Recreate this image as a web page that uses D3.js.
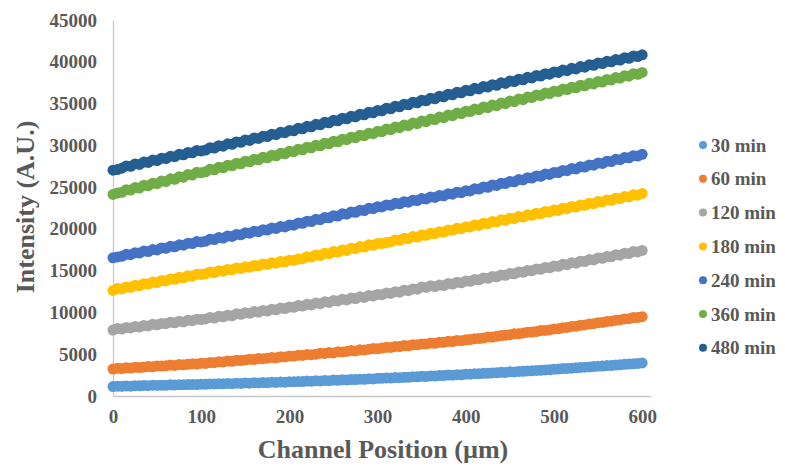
<!DOCTYPE html>
<html>
<head>
<meta charset="utf-8">
<script src="https://cdn.jsdelivr.net/npm/d3@7"></script>
<style>
  html, body { margin: 0; padding: 0; background: #fff; }
  svg { display: block; }
</style>
</head>
<body>
<svg id="chart" width="785" height="465"></svg>
<script>
// Channel positions (µm), one reading every 5 µm from 0 to 600
const positions = d3.range(0, 601, 5);

const seriesNames = ["30 min", "60 min", "120 min", "180 min", "240 min", "360 min", "480 min"];
const seriesColors = ["#5B9BD5", "#ED7D31", "#A5A5A5", "#FFC000", "#4472C4", "#70AD47", "#255E91"];

const yTicks = [0, 5000, 10000, 15000, 20000, 25000, 30000, 35000, 40000, 45000];
const xTicks = [0, 100, 200, 300, 400, 500, 600];

// Intensity (A.U.) per time point
const min30 = [
  1130, 1180, 1160, 1210, 1180, 1230, 1220, 1260, 1230, 1290, 1270, 1300, 1280, 1340, 1310, 1360, 1350, 1370, 1390, 1370, 1420,
  1400, 1450, 1440, 1470, 1460, 1510, 1480, 1530, 1510, 1560, 1540, 1590, 1570, 1610, 1600, 1650, 1620, 1680, 1660, 1710,
  1710, 1750, 1730, 1790, 1770, 1820, 1800, 1860, 1840, 1900, 1880, 1930, 1920, 1970, 1960, 2010, 2000, 2060, 2040, 2110,
  2110, 2160, 2140, 2210, 2190, 2240, 2240, 2300, 2290, 2350, 2330, 2400, 2390, 2440, 2440, 2500, 2490, 2550, 2540, 2610,
  2610, 2670, 2650, 2720, 2710, 2760, 2770, 2830, 2820, 2890, 2880, 2940, 2950, 3000, 3010, 3060, 3080, 3120, 3140, 3210,
  3220, 3290, 3300, 3330, 3370, 3420, 3450, 3480, 3520, 3570, 3590, 3640, 3660, 3710, 3740, 3790, 3820, 3860, 3900, 3960
];
const min60 = [
  3230, 3310, 3290, 3380, 3350, 3440, 3410, 3460, 3540, 3500, 3600, 3580, 3620, 3700, 3660, 3760, 3740, 3790, 3860, 3820, 3930,
  3900, 4010, 3990, 4100, 4080, 4190, 4150, 4270, 4250, 4300, 4400, 4370, 4480, 4460, 4520, 4610, 4570, 4690, 4680, 4780,
  4770, 4880, 4850, 4960, 4950, 5000, 5110, 5090, 5200, 5160, 5300, 5280, 5340, 5440, 5390, 5530, 5520, 5590, 5680, 5640,
  5730, 5830, 5810, 5930, 5920, 6040, 6010, 6130, 6120, 6230, 6220, 6330, 6310, 6430, 6420, 6540, 6510, 6630, 6620, 6730,
  6750, 6860, 6870, 6940, 7050, 7060, 7140, 7240, 7260, 7330, 7440, 7450, 7530, 7640, 7650, 7720, 7830, 7850, 7910, 8030,
  8050, 8180, 8200, 8320, 8350, 8480, 8500, 8620, 8660, 8780, 8800, 8930, 8950, 9080, 9100, 9230, 9250, 9380, 9400, 9490
];
const min120 = [
  7900, 8080, 8020, 8190, 8150, 8310, 8250, 8440, 8380, 8580, 8520, 8690, 8660, 8820, 8760, 8950, 8870, 9080, 9010, 9190, 9150,
  9230, 9390, 9330, 9540, 9480, 9670, 9600, 9830, 9770, 9950, 9900, 10110, 10030, 10240, 10170, 10390, 10320, 10520, 10470, 10660,
  10620, 10820, 10760, 10970, 10900, 11130, 11050, 11270, 11200, 11420, 11380, 11570, 11500, 11720, 11660, 11870, 11800, 12030, 11960, 12160,
  12120, 12330, 12270, 12490, 12430, 12660, 12600, 12820, 12780, 13050, 13000, 13180, 13090, 13280, 13220, 13450, 13400, 13600, 13550, 13760,
  13730, 13950, 13900, 14130, 14080, 14310, 14260, 14490, 14440, 14670, 14620, 14850, 14800, 15030, 14980, 15210, 15160, 15390, 15340, 15560,
  15530, 15760, 15720, 15950, 15900, 16140, 16090, 16330, 16280, 16520, 16480, 16710, 16660, 16900, 16850, 17090, 17040, 17280, 17240, 17420
];
const min180 = [
  12630, 12880, 12820, 13060, 13010, 13250, 13200, 13440, 13390, 13630, 13580, 13820, 13770, 14010, 13960, 14200, 14150, 14390, 14340, 14570, 14540,
  14620, 14830, 14780, 14990, 14940, 15150, 15100, 15310, 15260, 15470, 15420, 15630, 15580, 15790, 15740, 15950, 15900, 16110, 16060, 16260,
  16230, 16390, 16440, 16680, 16630, 16870, 16820, 17090, 17030, 17280, 17230, 17480, 17420, 17690, 17630, 17880, 17820, 18090, 18040, 18260,
  18240, 18370, 18440, 18680, 18640, 18870, 18830, 19080, 19030, 19270, 19230, 19470, 19420, 19670, 19620, 19880, 19830, 20070, 20030, 20260,
  20230, 20470, 20420, 20680, 20620, 20870, 20830, 21080, 21020, 21270, 21230, 21470, 21420, 21680, 21630, 21870, 21820, 22080, 22030, 22260,
  22230, 22470, 22420, 22680, 22620, 22870, 22830, 23080, 23020, 23270, 23230, 23470, 23420, 23680, 23630, 23870, 23820, 24080, 24030, 24240
];
const min240 = [
  16540, 16640, 16720, 16950, 16910, 17150, 17100, 17340, 17290, 17530, 17480, 17720, 17670, 17910, 17860, 18100, 18050, 18290, 18240, 18480, 18440,
  18530, 18770, 18720, 18960, 18900, 19150, 19100, 19340, 19290, 19530, 19480, 19720, 19670, 19910, 19860, 20100, 20050, 20290, 20240, 20460,
  20440, 20690, 20660, 20920, 20880, 21140, 21100, 21360, 21320, 21580, 21540, 21800, 21760, 22020, 21980, 22240, 22200, 22460, 22420, 22660,
  22630, 22870, 22820, 23060, 23000, 23250, 23200, 23440, 23390, 23630, 23580, 23820, 23770, 24010, 23960, 24200, 24150, 24390, 24340, 24560,
  24540, 24800, 24760, 25020, 24980, 25240, 25200, 25460, 25420, 25680, 25640, 25900, 25860, 26120, 26080, 26340, 26300, 26560, 26520, 26760,
  26740, 27000, 26960, 27220, 27180, 27440, 27400, 27660, 27620, 27880, 27840, 28100, 28060, 28320, 28280, 28540, 28500, 28760, 28720, 28920
];
const min360 = [
  24120, 24300, 24380, 24690, 24640, 24950, 24890, 25210, 25150, 25470, 25410, 25730, 25670, 25990, 25930, 26250, 26190, 26510, 26450, 26770, 26720,
  26840, 27130, 27070, 27380, 27310, 27620, 27550, 27860, 27790, 28100, 28030, 28340, 28270, 28580, 28510, 28820, 28750, 29060, 28990, 29280,
  29240, 29540, 29470, 29780, 29710, 30020, 29950, 30260, 30190, 30500, 30430, 30740, 30670, 30980, 30910, 31220, 31150, 31460, 31390, 31680,
  31640, 31940, 31870, 32180, 32110, 32420, 32350, 32660, 32590, 32900, 32830, 33140, 33070, 33380, 33310, 33620, 33550, 33860, 33790, 34080,
  34040, 34340, 34270, 34580, 34510, 34820, 34750, 35060, 34990, 35300, 35230, 35540, 35470, 35780, 35710, 36020, 35950, 36260, 36190, 36480,
  36440, 36730, 36660, 36960, 36890, 37190, 37120, 37420, 37350, 37650, 37580, 37880, 37810, 38110, 38040, 38340, 38270, 38570, 38500, 38720
];
const min480 = [
  27020, 27100, 27260, 27540, 27490, 27770, 27720, 28000, 27950, 28230, 28180, 28460, 28410, 28690, 28640, 28920, 28870, 29150, 29100, 29380, 29330,
  29440, 29720, 29670, 29950, 29900, 30180, 30130, 30410, 30360, 30640, 30590, 30870, 30820, 31100, 31050, 31330, 31280, 31560, 31510, 31780,
  31740, 32040, 31970, 32280, 32210, 32520, 32450, 32760, 32690, 33000, 32930, 33240, 33170, 33480, 33410, 33720, 33650, 33960, 33890, 34180,
  34140, 34440, 34370, 34680, 34610, 34920, 34850, 35160, 35090, 35400, 35330, 35640, 35570, 35880, 35810, 36120, 36050, 36360, 36290, 36580,
  36530, 36820, 36750, 37040, 36970, 37260, 37190, 37480, 37410, 37700, 37630, 37920, 37850, 38140, 38070, 38360, 38290, 38580, 38510, 38780,
  38730, 39010, 38940, 39220, 39150, 39430, 39360, 39640, 39570, 39850, 39780, 40060, 39990, 40270, 40200, 40480, 40410, 40690, 40620, 40830
];

const seriesValues = [min30, min60, min120, min180, min240, min360, min480];

const svg = d3.select("#chart");
const font = "'Liberation Serif', 'Times New Roman', serif";
const tickColor = "#595959";

const x = d3.scaleLinear().domain([0, 610]).range([113, 651]);
const y = d3.scaleLinear().domain([0, 45000]).range([396, 20]);

// Axes (lines only, no tick marks)
const xAxis = d3.axisBottom(x).tickValues(xTicks).tickSize(0).tickPadding(14).tickFormat(d3.format("d"));
const yAxis = d3.axisLeft(y).tickValues(yTicks).tickSize(0).tickPadding(16).tickFormat(d3.format("d"));

const gx = svg.append("g").attr("transform", `translate(0,${y(0)})`).call(xAxis);
const gy = svg.append("g").attr("transform", `translate(${x(0)},0)`).call(yAxis);

[gx, gy].forEach(g => {
  g.select(".domain").attr("stroke", "#c8c8c8").attr("stroke-width", 1.3);
  g.selectAll("text")
    .attr("font-family", font)
    .attr("font-weight", "bold")
    .attr("font-size", 19)
    .attr("fill", tickColor);
});

// Scatter markers
seriesValues.forEach((vals, i) => {
  svg.append("g")
    .selectAll("circle")
    .data(vals)
    .join("circle")
    .attr("cx", (d, j) => x(positions[j]))
    .attr("cy", d => y(d))
    .attr("r", 5.5)
    .attr("fill", seriesColors[i]);
});

// Axis titles
svg.append("text")
  .attr("x", 383)
  .attr("y", 458)
  .attr("text-anchor", "middle")
  .attr("font-family", font)
  .attr("font-weight", "bold")
  .attr("font-size", 26)
  .attr("fill", tickColor)
  .text("Channel Position (µm)");

svg.append("text")
  .attr("transform", "translate(34,207) rotate(-90)")
  .attr("text-anchor", "middle")
  .attr("font-family", font)
  .attr("font-weight", "bold")
  .attr("font-size", 26)
  .attr("fill", tickColor)
  .text("Intensity (A.U.)");

// Legend
const legend = svg.append("g");
seriesNames.forEach((name, i) => {
  const ly = 145 + i * 33.8;
  legend.append("circle")
    .attr("cx", 703)
    .attr("cy", ly)
    .attr("r", 4)
    .attr("fill", seriesColors[i]);
  legend.append("text")
    .attr("x", 711)
    .attr("y", ly)
    .attr("dy", "0.35em")
    .attr("font-family", font)
    .attr("font-weight", "bold")
    .attr("font-size", 19)
    .attr("fill", tickColor)
    .text(name);
});
</script>
</body>
</html>
